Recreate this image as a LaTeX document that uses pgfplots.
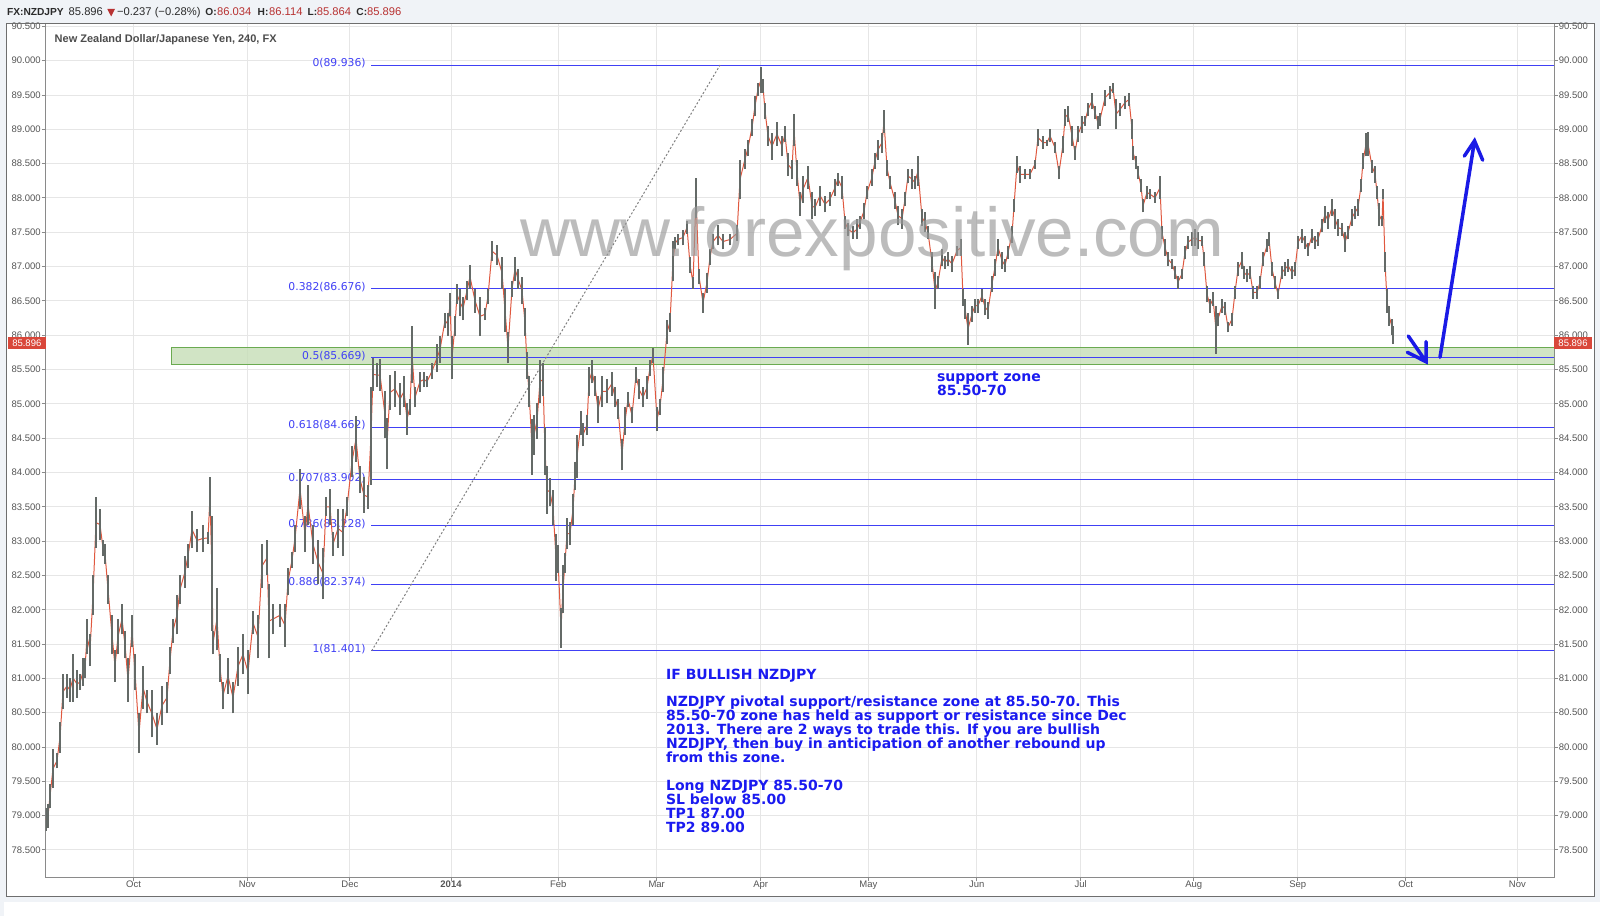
\documentclass[border=0pt]{standalone}
\usepackage{fontspec}
\setmainfont{Liberation Sans}
\newfontfamily\dejavu{DejaVu Sans}
\usepackage{pgfplots}
\pgfplotsset{compat=1.18}
\usepackage{pgfplotstable}

\definecolor{bgGray}{HTML}{F0F3F7}
\definecolor{frameGray}{HTML}{6E6E6E}
\definecolor{gridGray}{HTML}{E6E6E6}
\definecolor{axisGray}{HTML}{8A8A8A}
\definecolor{tickText}{HTML}{555555}
\definecolor{fibBlue}{HTML}{4040F5}
\definecolor{zoneFill}{HTML}{C6DEB7}
\definecolor{zoneLine}{HTML}{6AAA50}
\definecolor{candleGray}{HTML}{646A67}
\definecolor{candleRed}{HTML}{E0583F}
\definecolor{textBlue}{HTML}{1A1AF0}
\definecolor{arrowBlue}{HTML}{1A1AE6}
\definecolor{tagRed}{HTML}{D9473A}
\definecolor{hdrRed}{HTML}{B83232}
\definecolor{hdrText}{HTML}{2B2B2B}

\newcommand\tickfont{\fontsize{4.75}{5.5}\selectfont}
\newcommand\hdrfont{\fontsize{5.6}{6}\selectfont}
\newcommand\hdrbold{\bfseries\fontsize{5.1}{6}\selectfont}
\newcommand\notefont{\dejavu\bfseries\fontsize{7}{7}\selectfont}

% x = horizontal position on the chart (pixels), lo/hi = price range of the bucket
\pgfplotstableread{
x lo hi
46 78.77 79.11
48 78.82 79.17
50 79.11 79.46
53 79.40 79.97
57 79.69 79.91
60 79.91 80.37
63 80.55 81.06
67 80.72 81.06
70 80.66 81.00
73 80.66 81.35
77 80.72 81.12
80 80.83 81.06
83 80.89 81.29
85 81.00 81.29
87 81.35 81.87
90 81.18 81.64
93 81.92 82.50
96 82.90 83.64
100 83.01 83.47
103 82.78 83.01
105 82.67 82.96
108 82.09 82.50
112 81.35 81.92
115 80.95 81.41
118 81.35 81.87
122 81.64 82.09
125 81.29 81.69
128 80.66 81.29
132 81.46 81.92
135 80.83 81.35
139 79.91 80.49
143 80.55 81.18
147 80.49 80.83
152 80.14 80.83
157 80.03 80.49
162 80.32 80.89
167 80.49 80.95
170 81.06 81.46
173 81.52 81.87
177 81.64 82.21
180 82.09 82.50
185 82.32 82.78
188 82.61 82.96
192 82.90 83.44
197 82.84 83.18
203 82.84 83.24
208 82.96 83.13
210 83.36 83.94
212 81.69 83.36
213 81.35 81.69
217 81.41 82.32
220 80.95 81.35
223 80.55 80.95
228 80.78 81.29
233 80.49 80.95
238 80.89 81.46
243 81.06 81.64
248 80.78 81.41
253 81.64 81.98
258 81.29 81.92
262 82.32 82.96
267 82.50 83.01
269 81.29 82.38
273 81.64 82.09
280 81.75 82.09
285 81.46 82.09
288 82.21 82.61
292 82.61 82.84
295 82.84 83.24
300 83.47 84.05
305 82.84 83.36
308 83.24 83.82
313 82.67 83.24
318 82.38 83.01
323 82.15 82.90
326 83.36 83.64
330 83.24 83.76
333 82.78 83.13
338 82.90 83.47
343 82.78 83.47
347 83.36 83.64
352 83.93 84.39
356 84.16 84.82
360 83.70 84.10
364 83.41 83.93
368 83.47 83.82
371 83.82 85.25
373 85.19 85.67
377 85.25 85.59
380 85.19 85.65
385 84.50 85.19
387 84.05 84.79
390 84.91 85.42
395 84.96 85.48
400 84.84 85.30
404 84.95 85.41
407 84.55 85.01
410 84.84 85.07
412 85.30 86.13
415 84.95 85.24
420 85.18 85.47
424 85.24 85.47
427 85.24 85.41
432 85.36 85.59
437 85.47 85.87
440 85.59 85.99
445 86.10 86.33
448 85.99 86.33
450 86.28 86.62
452 85.36 85.99
455 85.99 86.28
457 86.45 86.74
460 86.28 86.68
463 86.22 86.56
467 86.51 86.79
470 86.68 87.02
475 86.33 86.68
480 85.99 86.56
485 86.22 86.39
488 86.45 86.68
492 87.08 87.37
497 87.02 87.31
502 86.68 87.14
505 86.05 86.68
508 85.59 86.05
512 86.56 86.79
515 86.79 87.14
518 86.68 86.97
522 86.45 86.85
525 85.99 86.39
527 85.36 85.76
529 84.95 85.41
532 83.97 84.78
534 84.26 84.84
537 84.49 85.01
540 85.01 85.64
543 85.12 85.59
545 83.97 84.66
547 83.40 84.09
550 83.51 83.92
553 83.23 83.74
556 82.42 83.11
558 82.54 82.94
561 81.44 82.02
563 81.96 82.65
565 82.54 82.82
567 82.88 83.34
570 82.94 83.28
573 83.23 83.69
575 83.74 84.15
577 83.92 84.55
581 84.55 84.89
583 84.38 84.72
587 84.55 84.84
589 85.12 85.53
592 85.30 85.64
595 85.12 85.41
598 84.72 85.12
602 84.95 85.41
607 85.01 85.36
612 85.12 85.47
615 84.95 85.24
618 84.78 85.07
622 84.03 84.49
625 84.55 84.95
628 84.95 85.18
632 84.72 84.95
636 85.30 85.53
639 85.07 85.36
643 84.95 85.24
647 85.07 85.41
650 85.41 85.64
653 85.59 85.82
657 84.61 84.95
660 84.84 85.07
663 85.18 85.53
667 85.87 86.22
670 86.05 86.33
673 86.79 87.37
675 87.25 87.43
678 87.31 87.48
683 87.31 87.54
687 87.48 87.66
690 86.91 87.14
693 86.68 86.85
696 87.71 88.29
699 86.74 86.97
703 86.33 86.62
707 86.62 86.91
710 87.02 87.25
713 87.25 87.48
718 87.31 87.60
723 87.25 87.48
730 87.31 87.48
737 87.37 87.60
740 87.98 88.56
745 88.42 88.71
748 88.61 88.85
752 88.90 89.15
755 89.19 89.49
758 89.49 89.68
761 89.53 89.91
763 89.53 89.73
765 89.15 89.39
768 88.76 89.05
772 88.56 88.95
777 88.76 89.10
782 88.61 88.90
785 88.81 89.05
788 88.32 88.66
792 88.27 88.56
794 88.76 89.22
797 88.18 88.56
800 87.74 88.08
803 87.93 88.32
808 88.13 88.47
812 87.69 88.08
815 87.74 87.98
820 87.89 88.18
825 87.79 88.03
830 87.89 88.08
835 88.03 88.27
838 88.18 88.37
842 87.98 88.32
845 87.55 87.74
848 87.45 87.64
853 87.40 87.59
857 87.40 87.69
860 87.55 87.74
864 87.69 87.93
867 87.98 88.18
872 88.18 88.42
875 88.42 88.66
878 88.56 88.85
882 88.66 88.95
884 88.95 89.28
887 88.32 88.56
890 88.13 88.32
895 87.84 88.08
898 87.60 87.89
902 87.55 87.84
905 87.89 88.08
908 88.22 88.42
912 88.13 88.42
915 88.13 88.32
918 88.18 88.61
922 87.59 87.84
925 87.50 87.79
928 87.40 87.59
932 86.92 87.21
935 86.38 86.92
938 86.67 86.87
942 87.01 87.25
945 86.97 87.16
948 87.01 87.21
952 86.92 87.16
957 87.16 87.30
961 87.16 87.40
963 86.43 86.67
965 86.24 86.53
968 85.86 86.33
972 86.19 86.43
975 86.33 86.53
978 86.33 86.53
982 86.48 86.67
985 86.29 86.53
988 86.24 86.48
992 86.63 86.87
995 86.87 87.11
998 87.16 87.40
1002 86.97 87.21
1005 86.92 87.11
1008 87.11 87.30
1012 87.35 87.59
1014 87.79 87.98
1017 88.37 88.61
1020 88.22 88.47
1025 88.27 88.42
1030 88.27 88.42
1035 88.42 88.56
1038 88.76 89.00
1043 88.71 88.90
1047 88.76 88.85
1050 88.81 89.00
1055 88.66 88.81
1059 88.27 88.47
1063 88.66 88.90
1065 89.05 89.29
1068 89.10 89.34
1072 88.76 89.05
1075 88.56 88.76
1078 88.81 89.05
1082 88.95 89.19
1085 89.05 89.19
1088 89.19 89.39
1092 89.29 89.53
1095 89.15 89.34
1098 89.00 89.19
1100 89.05 89.24
1105 89.34 89.58
1110 89.44 89.63
1113 89.53 89.68
1116 89.00 89.44
1120 89.19 89.39
1125 89.29 89.49
1129 89.34 89.53
1132 88.86 89.15
1133 88.56 88.76
1136 88.42 88.61
1138 88.27 88.47
1141 88.08 88.27
1143 87.79 87.98
1147 87.98 88.18
1150 87.98 88.13
1155 87.93 88.08
1160 87.98 88.32
1162 87.40 87.59
1165 87.16 87.40
1168 87.01 87.21
1172 86.97 87.11
1175 86.82 87.01
1178 86.68 86.87
1182 86.82 86.97
1185 87.11 87.30
1188 87.26 87.45
1192 87.30 87.50
1195 87.30 87.55
1198 87.26 87.50
1202 87.30 87.45
1204 87.01 87.21
1207 86.48 86.72
1210 86.33 86.53
1213 86.43 86.63
1216 85.73 86.43
1218 86.14 86.33
1222 86.33 86.53
1225 86.29 86.48
1228 86.04 86.19
1232 86.14 86.33
1235 86.53 86.72
1238 86.87 87.06
1242 86.97 87.21
1244 86.82 87.01
1247 86.77 86.97
1250 86.82 87.01
1253 86.53 86.72
1257 86.53 86.72
1260 86.67 86.87
1263 87.01 87.21
1267 87.21 87.40
1269 87.30 87.50
1272 86.87 87.06
1275 86.67 86.87
1278 86.53 86.67
1282 86.82 87.01
1285 86.87 87.06
1288 86.92 87.11
1292 86.82 87.01
1295 86.87 87.06
1298 87.26 87.45
1302 87.35 87.55
1305 87.26 87.45
1308 87.16 87.35
1312 87.35 87.55
1315 87.26 87.45
1318 87.30 87.50
1322 87.50 87.69
1325 87.64 87.89
1328 87.55 87.79
1332 87.74 87.98
1335 87.55 87.84
1338 87.45 87.69
1342 87.45 87.64
1345 87.21 87.50
1348 87.40 87.59
1352 87.59 87.84
1355 87.69 87.89
1358 87.74 87.98
1361 88.08 88.27
1363 88.42 88.66
1366 88.61 88.95
1368 88.61 88.96
1372 88.37 88.56
1375 88.22 88.47
1377 87.98 88.18
1379 87.59 87.93
1382 87.59 87.74
1383 87.98 88.13
1385 86.92 87.21
1387 86.33 86.67
1389 86.14 86.43
1392 86.00 86.24
1393 85.87 86.14
}\candles

\begin{document}
\begin{tikzpicture}
\useasboundingbox (0,0) rectangle (800pt,458pt);

% page background, frame, header strip (pixel coordinates from top left)
\begin{scope}[shift={(0pt,458pt)}, x=0.5pt, y=-0.5pt]
  \fill[bgGray] (0,0) rectangle (1600,916);
  \fill[white] (6,23.3) rectangle (1594,896);
  \fill[white] (4,902) rectangle (1600,916);
\end{scope}

\begin{axis}[
    at={(22.85pt,19.35pt)}, anchor=south west,
    width=754.15pt, height=427pt, scale only axis,
    xmin=45.7, xmax=1554, ymin=78.102, ymax=90.545,
    axis line style={draw=axisGray, line width=0.5pt},
    xtick={133.5,247.3,349.9,451,558.3,656.7,760.7,868.3,976.7,1080.7,1193.7,1297.7,1405.7,1517.4},
    xticklabels={Oct,Nov,Dec,\textbf{2014},Feb,Mar,Apr,May,Jun,Jul,Aug,Sep,Oct,Nov},
    ytick={78.5,79,...,90.5},
    xtick pos=left, ytick pos=both, yticklabel pos=left,
    tick align=outside, major tick length=2pt,
    tick style={draw=axisGray, line width=0.5pt},
    grid=major, major grid style={draw=gridGray, line width=0.5pt},
    tick label style={font=\tickfont, text=tickText},
    xticklabel style={anchor=north, inner sep=0pt, yshift=0.5pt},
    yticklabel style={anchor=east, inner sep=0pt, xshift=-0.3pt,
        /pgf/number format/.cd, fixed, fixed zerofill, precision=3, 1000 sep={}, assume math mode=true},
]
  % support zone
  \fill[zoneFill, fill opacity=0.8] (axis cs:171.4,85.576) rectangle (axis cs:1554,85.824);
  \draw[zoneLine, line width=0.5pt] (axis cs:171.4,85.576) rectangle (axis cs:1554,85.824);

  % fibonacci levels
  \addplot[fibBlue, line width=0.5pt, forget plot] coordinates {(371,89.936) (1554,89.936)};
  \addplot[fibBlue, line width=0.5pt, forget plot] coordinates {(371,86.676) (1554,86.676)};
  \addplot[fibBlue, line width=0.5pt, forget plot] coordinates {(371,85.669) (1554,85.669)};
  \addplot[fibBlue, line width=0.5pt, forget plot] coordinates {(371,84.662) (1554,84.662)};
  \addplot[fibBlue, line width=0.5pt, forget plot] coordinates {(371,83.902) (1554,83.902)};
  \addplot[fibBlue, line width=0.5pt, forget plot] coordinates {(371,83.228) (1554,83.228)};
  \addplot[fibBlue, line width=0.5pt, forget plot] coordinates {(371,82.374) (1554,82.374)};
  \addplot[fibBlue, line width=0.5pt, forget plot] coordinates {(371,81.401) (1554,81.401)};
  \addplot[gray, line width=0.5pt, dash pattern=on 1pt off 1pt, forget plot] coordinates {(371.7,81.401) (720,89.936)};

  \begin{scope}[every node/.style={anchor=east, inner sep=0pt, yshift=0.8pt, text=fibBlue, font=\dejavu\fontsize{5.4}{6}\selectfont}]
    \node at (axis cs:366,89.936) {0(89.936)};
    \node at (axis cs:366,86.676) {0.382(86.676)};
    \node at (axis cs:366,85.669) {0.5(85.669)};
    \node at (axis cs:366,84.662) {0.618(84.662)};
    \node at (axis cs:366,83.902) {0.707(83.902)};
    \node at (axis cs:366,83.228) {0.786(83.228)};
    \node at (axis cs:366,82.374) {0.886(82.374)};
    \node at (axis cs:366,81.401) {1(81.401)};
  \end{scope}

  % price path and candle ranges
  \addplot[candleRed, line width=0.5pt, forget plot]
    table[x=x, y expr={0.5*(\thisrow{lo}+\thisrow{hi})}] {\candles};
  \addplot[draw=none, mark=none, forget plot,
    error bars/.cd, y dir=plus, y explicit, error mark=none,
    error bar style={draw=candleGray, line width=1.05pt, solid}]
    table[x=x, y=lo, y error expr=\thisrow{hi}-\thisrow{lo}] {\candles};
\end{axis}

% right hand price scale
\begin{axis}[
    at={(22.85pt,19.35pt)}, anchor=south west,
    width=754.15pt, height=427pt, scale only axis,
    xmin=45.7, xmax=1554, ymin=78.102, ymax=90.545,
    axis line style={draw=none},
    xtick=\empty,
    ytick={78.5,79,...,90.5},
    ytick pos=right, yticklabel pos=right,
    major tick length=0pt,
    tick label style={font=\tickfont, text=tickText},
    yticklabel style={anchor=west, inner sep=0pt, xshift=2.2pt,
        /pgf/number format/.cd, fixed, fixed zerofill, precision=3, 1000 sep={}, assume math mode=true},
]
\end{axis}

\begin{scope}[shift={(0pt,458pt)}, x=0.5pt, y=-0.5pt]
  % frame
  \draw[frameGray, line width=0.5pt] (6,23.3) rectangle (1594,896);

  % watermark
  \node[anchor=base west, inner sep=0pt, text=gray!80, opacity=0.65,
        font=\fontsize{34.6}{36}\selectfont] at (520,256.7) {www.forexpositive.com};

  % header
  \begin{scope}[every node/.style={anchor=base west, inner sep=0pt, font=\hdrfont, text=hdrText}]
    \node at (6.7,16) {\hdrbold FX:NZDJPY};
    \node at (68.3,16) {85.896};
    \node at (116.7,16) {−0.237 (−0.28\%)};
    \node at (205,16) {\hdrbold O:};
    \node[text=hdrRed] at (216.7,16) {86.034};
    \node at (257.3,16) {\hdrbold H:};
    \node[text=hdrRed] at (268.7,16) {86.114};
    \node at (307.3,16) {\hdrbold L:};
    \node[text=hdrRed] at (316.5,16) {85.864};
    \node at (356,16) {\hdrbold C:};
    \node[text=hdrRed] at (366.7,16) {85.896};
  \end{scope}
  \fill[hdrRed] (107.3,9) -- (115,9) -- (111.15,16.5) -- cycle;

  % chart title
  \node[anchor=base west, inner sep=0pt, text=black!70, font=\bfseries\fontsize{5.5}{6}\selectfont]
    at (54.3,42.7) {New Zealand Dollar/Japanese Yen, 240, FX};

  % current price tags
  \fill[tagRed] (8,336.7) rectangle (45.7,349.3);
  \node[inner sep=0pt, text=white, font=\tickfont] at (26.8,343) {85.896};
  \fill[tagRed] (1554,336.7) rectangle (1592,349.3);
  \node[inner sep=0pt, text=white, font=\tickfont] at (1573,343) {85.896};

  % arrows
  \draw[arrowBlue, line width=1.75pt, line cap=round]
    (1408.3,336) -- (1426,361.7) (1426,341.7) -- (1426,361.7) -- (1407.3,352.3);
  \draw[arrowBlue, line width=1.75pt, line cap=round]
    (1440,357.3) -- (1474.5,140.8) (1464.3,156.1) -- (1474.5,140.8) -- (1482.7,160.2);

  % annotations
  \begin{scope}[every node/.style={anchor=base west, inner sep=0pt, text=textBlue, font=\notefont}]
    \node at (936.7,381.7) {support zone};
    \node at (936.7,396) {85.50-70};
    \node at (665.7,679.3) {IF BULLISH NZDJPY};
    \node at (665.7,706.7) {NZDJPY pivotal support/resistance zone at 85.50-70. This};
    \node at (665.7,720.7) {85.50-70 zone has held as support or resistance since Dec};
    \node at (665.7,734.7) {2013. There are 2 ways to trade this. If you are bullish};
    \node at (665.7,748.7) {NZDJPY, then buy in anticipation of another rebound up};
    \node at (665.7,762.7) {from this zone.};
    \node at (665.7,790.7) {Long NZDJPY 85.50-70};
    \node at (665.7,804.7) {SL below 85.00};
    \node at (665.7,818.7) {TP1 87.00};
    \node at (665.7,832.7) {TP2 89.00};
  \end{scope}
\end{scope}
\end{tikzpicture}
\end{document}
